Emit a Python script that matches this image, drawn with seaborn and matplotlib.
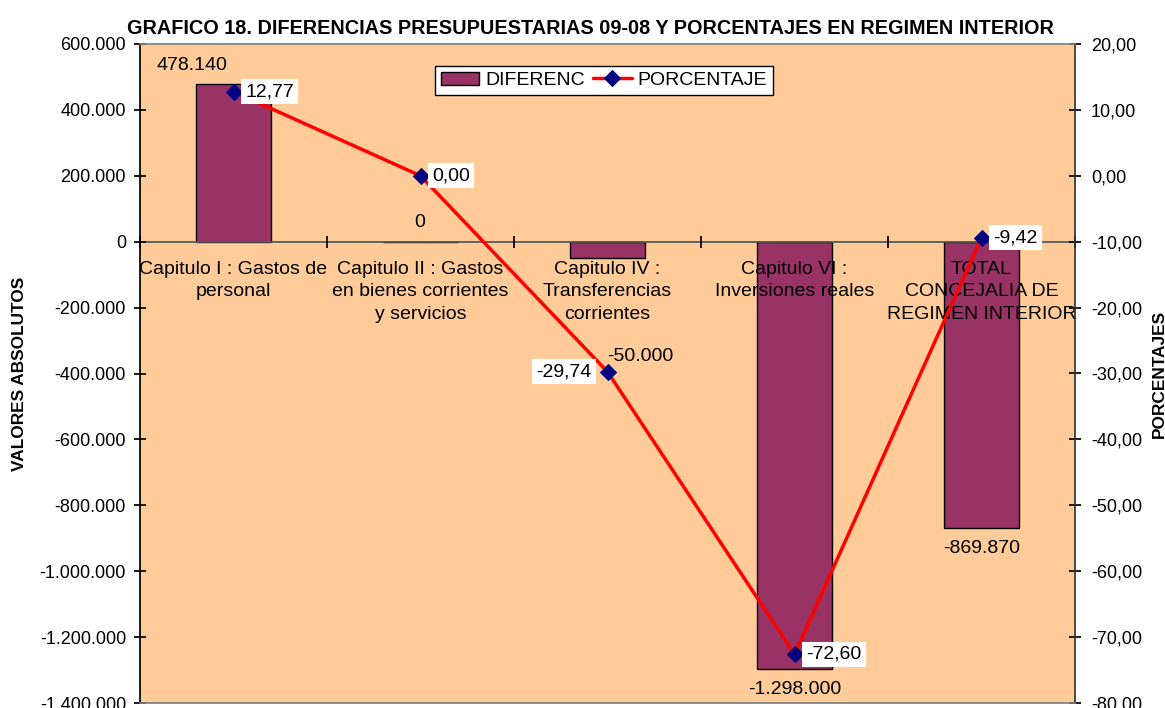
import numpy as np
import seaborn as sns
import matplotlib.pyplot as plt
from matplotlib.ticker import FuncFormatter

categorias = ["Capitulo I : Gastos de\npersonal",
              "Capitulo II : Gastos\nen bienes corrientes\ny servicios",
              "Capitulo IV :\nTransferencias\ncorrientes",
              "Capitulo VI :\nInversiones reales",
              "TOTAL\nCONCEJALIA DE\nREGIMEN INTERIOR"]
diferencias = [478140, 0, -50000, -1298000, -869870]
porcentajes = [12.77, 0.00, -29.74, -72.60, -9.42]

# desplazamientos (px) de las etiquetas tal como los deja Excel
off_dif = [(-42, 19), (-1, 19), (33, -98), (0, -20), (0, -20)]
lado_pct = ['r', 'r', 'l', 'r', 'r']

sns.set_theme(style="ticks")
plt.rcParams['font.family'] = ['Liberation Sans', 'DejaVu Sans']
plt.rcParams.update({'text.color': 'black', 'axes.labelcolor': 'black',
                     'xtick.color': 'black', 'ytick.color': 'black'})

def fmt_abs(v, pos=None):
    return f"{v:,.0f}".replace(",", ".")

def fmt_pct(v, pos=None):
    return f"{v:.2f}".replace(".", ",")

fig = plt.figure(figsize=(11.65, 7.08), dpi=100)
ax = fig.add_axes([140 / 1165, 5 / 708, 935 / 1165, 659 / 708])
ax.set_facecolor('#FFCC99')

pos = np.arange(len(categorias))
sns.barplot(x=pos, y=diferencias, color='#993366', saturation=1, width=0.4,
            edgecolor='black', linewidth=1, ax=ax, label='DIFERENC')
if ax.get_legend() is not None:
    ax.get_legend().remove()
ax.set_axisbelow(False)

ax2 = ax.twinx()
sns.lineplot(x=pos, y=porcentajes, ax=ax2, color='red', linewidth=2.5,
             marker='D', markersize=8, markerfacecolor='#000080',
             markeredgecolor='#000080', label='PORCENTAJE', legend=False)

ax.set_xlim(-0.5, 4.5)
ax.set_ylim(-1400000, 600000)
ax2.set_ylim(-80, 20)
ax.set_yticks(np.arange(-1400000, 600001, 200000))
ax2.set_yticks(np.arange(-80, 21, 10))
ax.yaxis.set_major_formatter(FuncFormatter(fmt_abs))
ax2.yaxis.set_major_formatter(FuncFormatter(fmt_pct))

# eje de categorias sobre el cero
ax.spines['bottom'].set_position(('data', 0))
ax.spines['bottom'].set_color('#555555')
ax.spines['top'].set_visible(False)
ax.spines['right'].set_visible(False)
ax.spines['left'].set_color('black')
ax.set_xticks(np.arange(-0.5, 4.6, 1))
ax.set_xticklabels([])
ax.set_xticks(pos, minor=True)
ax.set_xticklabels(categorias, minor=True, fontsize=14, linespacing=1.4)
ax.tick_params(axis='x', which='major', direction='inout', length=9, color='black')
ax.tick_params(axis='x', which='minor', length=0, pad=14)
ax.tick_params(axis='y', direction='inout', length=9, pad=5.5, labelsize=13, color='black')
ax2.tick_params(axis='y', direction='inout', length=9, pad=7, labelsize=13, color='black')
ax.set_xlabel('')

ax2.spines['left'].set_visible(False)
ax2.spines['top'].set_color('gray')
ax2.spines['bottom'].set_color('gray')
ax2.spines['right'].set_color('#333333')

ax.set_ylabel('VALORES ABSOLUTOS', fontsize=12.4, fontweight='bold')
ax.yaxis.set_label_coords(-0.121, 0.5)
ax2.set_ylabel('PORCENTAJES', fontsize=12.4, fontweight='bold', rotation=90)
ax2.yaxis.set_label_coords(1.082, 0.5)

for i, v in enumerate(diferencias):
    dx, dy = off_dif[i]
    ax.annotate(fmt_abs(v), (pos[i], v), xytext=(dx, dy), textcoords='offset pixels',
                ha='center', va='center', fontsize=14, annotation_clip=False)

for i, p in enumerate(porcentajes):
    if lado_pct[i] == 'r':
        xt, ha = (12, 'left')
    else:
        xt, ha = (-16, 'right')
    ax2.annotate(fmt_pct(p), (pos[i], p), xytext=(xt, 0), textcoords='offset pixels',
                 ha=ha, va='center', fontsize=14,
                 bbox=dict(facecolor='white', edgecolor='none', pad=3))

h1, l1 = ax.get_legend_handles_labels()
h2, l2 = ax2.get_legend_handles_labels()
leg = ax2.legend(h1 + h2, l1 + l2, loc='upper center', bbox_to_anchor=(0.496, 0.967),
                 ncol=2, fontsize=14, frameon=True, fancybox=False, framealpha=1,
                 edgecolor='black', borderpad=0.3, handletextpad=0.3,
                 columnspacing=0.4, handlelength=2.0, borderaxespad=0)
leg.get_frame().set_linewidth(1)

fig.text(590 / 1165, 1 - 28 / 708,
         'GRAFICO 18. DIFERENCIAS PRESUPUESTARIAS 09-08 Y PORCENTAJES EN REGIMEN INTERIOR',
         ha='center', va='center', fontsize=14.3, fontweight='bold')

fig.savefig('out.png', dpi=100, facecolor='white')
